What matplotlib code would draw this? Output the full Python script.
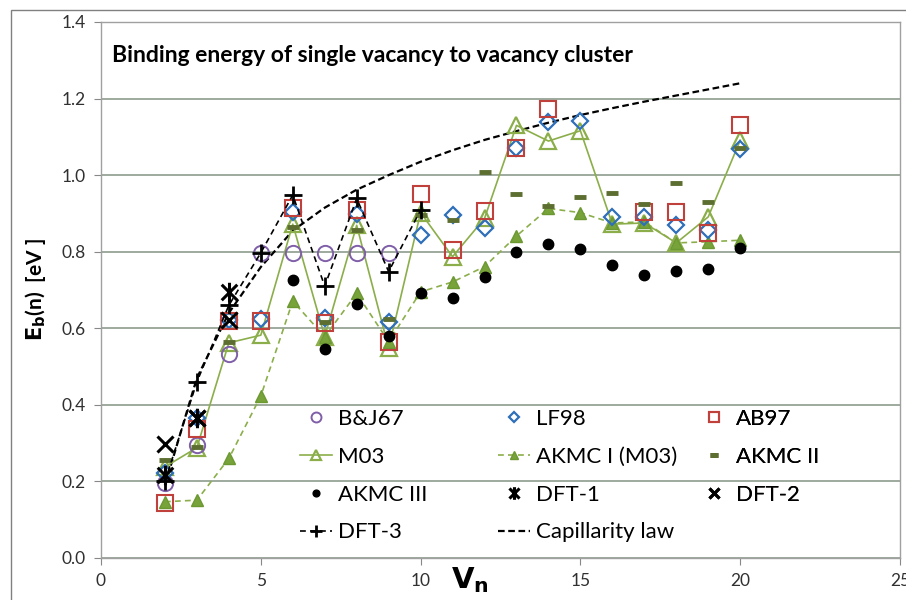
import numpy as np
import matplotlib
matplotlib.use("Agg")
import matplotlib.pyplot as plt
from matplotlib.path import Path
from matplotlib.patches import Rectangle

plt.rcParams["font.family"] = ["Lato", "DejaVu Sans"]

# ---- data ----
n_bj = [2, 3, 4, 5, 6, 7, 8, 9]
bj67 = [0.195, 0.295, 0.533, 0.797, 0.797, 0.797, 0.797, 0.797]

n_lf = list(range(2, 21))
lf98 = [0.222, 0.365, 0.621, 0.624, 0.905, 0.626, 0.898, 0.617, 0.843, 0.895,
        0.862, 1.07, 1.139, 1.141, 0.891, 0.891, 0.871, 0.856, 1.067]

n_ab = [2, 3, 4, 5, 6, 7, 8, 9, 10, 11, 12, 13, 14, 17, 18, 19, 20]
ab97 = [0.144, 0.336, 0.62, 0.62, 0.915, 0.613, 0.909, 0.565, 0.952, 0.804,
        0.907, 1.07, 1.172, 0.904, 0.904, 0.849, 1.13]

n_m03 = list(range(2, 21))
m03 = [0.238, 0.288, 0.562, 0.582, 0.872, 0.578, 0.869, 0.548, 0.902, 0.787,
       0.887, 1.13, 1.089, 1.116, 0.872, 0.875, 0.823, 0.891, 1.091]

n_ak1 = list(range(2, 21))
akmc1 = [0.147, 0.151, 0.26, 0.423, 0.671, 0.578, 0.691, 0.565, 0.695, 0.721,
         0.761, 0.841, 0.913, 0.902, 0.875, 0.878, 0.823, 0.826, 0.83]

n_ak2 = [2, 3, 4, 6, 7, 8, 9, 10, 11, 12, 13, 14, 15, 16, 17, 18, 19, 20]
akmc2 = [0.256, 0.29, 0.565, 0.865, 0.617, 0.858, 0.625, 0.896, 0.884, 1.007,
         0.951, 0.92, 0.944, 0.953, 0.924, 0.979, 0.93, 1.07]

n_ak3 = list(range(6, 21))
akmc3 = [0.726, 0.545, 0.663, 0.58, 0.693, 0.68, 0.733, 0.80, 0.819, 0.808,
         0.765, 0.739, 0.75, 0.754, 0.81]

n_dft1 = [2, 3, 4]
dft1 = [0.217, 0.365, 0.695]

n_dft2 = [2, 3, 4]
dft2 = [0.298, 0.365, 0.621]

n_dft3 = [2, 3, 4, 5, 6, 7, 8, 9, 10]
dft3 = [0.2, 0.46, 0.66, 0.797, 0.948, 0.71, 0.939, 0.748, 0.909]

n_cap = list(range(2, 21))
cap = [0.19, 0.47, 0.64, 0.76, 0.855, 0.915, 0.962, 1.0, 1.035, 1.065,
       1.092, 1.115, 1.137, 1.157, 1.175, 1.192, 1.208, 1.224, 1.24]

# colours
c_purple = "#7f5fa8"
c_blue = "#2e6fba"
c_red = "#c0413b"
c_green = "#8bae4a"
c_dkgreen = "#5c6e30"
c_grid = "#8c9c8c"

# asterisk marker: X plus vertical bar
ast = Path([(-1, -1), (1, 1), (-1, 1), (1, -1), (0, -1.25), (0, 1.25)],
           [Path.MOVETO, Path.LINETO, Path.MOVETO, Path.LINETO, Path.MOVETO, Path.LINETO])

fig = plt.figure(figsize=(9.06, 6.0), dpi=100)
ax = fig.add_axes([101 / 906, 42 / 600, 799 / 906, 536 / 600])

h_cap, = ax.plot(n_cap, cap, ls=(0, (3, 1.6)), color="black", lw=1.6, label="Capillarity law", zorder=3)
h_dft3, = ax.plot(n_dft3, dft3, ls=(0, (3.5, 2.5)), color="black", lw=1.2, marker="+",
                  ms=13, mew=2, label="DFT-3", zorder=6)
h_m03, = ax.plot(n_m03, m03, "-", color=c_green, lw=1.2, marker="^", ms=12, mfc="none",
                 mec=c_green, mew=1.6, label="M03", zorder=4)
h_ak1, = ax.plot(n_ak1, akmc1, ls=(0, (3.5, 2.5)), color=c_green, lw=1.2, marker="^", ms=9,
                 mfc="#77a33a", mec="#6c9832", label="AKMC I (M03)", zorder=4)
h_bj, = ax.plot(n_bj, bj67, ls="none", marker="o", ms=11, mfc="none", mec=c_purple,
                mew=1.4, label="B&J67", zorder=5)
h_lf, = ax.plot(n_lf, lf98, ls="none", marker="D", ms=8, mfc="none", mec=c_blue,
                mew=1.6, label="LF98", zorder=5)
h_ab, = ax.plot(n_ab, ab97, ls="none", marker="s", ms=11, mfc="none", mec=c_red,
                mew=1.5, label="AB97", zorder=5)
h_ak2, = ax.plot(n_ak2, akmc2, ls="none", marker="_", ms=9, mew=3.5, color=c_dkgreen,
                 label="AKMC II", zorder=5)
h_ak3, = ax.plot(n_ak3, akmc3, ls="none", marker="o", ms=7.5, color="black",
                 label="AKMC III", zorder=5)
h_dft1, = ax.plot(n_dft1, dft1, ls="none", marker=ast, ms=14, mew=2.2, mfc="none", mec="black",
                  label="DFT-1", zorder=6)
h_dft2, = ax.plot(n_dft2, dft2, ls="none", marker="x", ms=12, mew=2.2, color="black",
                  label="DFT-2", zorder=6)

ax.set_xlim(0, 25)
ax.set_ylim(0, 1.4)
ax.set_xticks(np.arange(0, 26, 5))
ax.set_yticks(np.arange(0, 1.41, 0.2))
ax.set_yticklabels(["%.1f" % v for v in np.arange(0, 1.41, 0.2)])
ax.yaxis.grid(True, color=c_grid, lw=1.2)
ax.set_axisbelow(True)
for side in ["left", "bottom", "right", "top"]:
    ax.spines[side].set_color("#a0a0a0")
    ax.spines[side].set_linewidth(1.0)
ax.tick_params(direction="out", length=5, color="#888888", labelsize=12.5,
               labelcolor="#303030", pad=6)

ax.set_xlabel(r"$\mathbf{V_n}$", fontsize=21)
ax.xaxis.set_label_coords((470 - 101) / 799, -0.014)
ax.xaxis.label.set_va("top")
ax.set_ylabel(r"$\mathbf{E_b}$" + "(n)  [eV ]", fontsize=15, fontweight="bold", labelpad=10)
ax.text(0.014, 0.957, "Binding energy of single vacancy to vacancy cluster",
        transform=ax.transAxes, fontsize=16.5, fontweight="bold", va="top", ha="left")

# legend: three columns placed like the reference
columns = [
    ([h_bj, h_m03, h_ak3, h_dft3], 300),
    ([h_lf, h_ak1, h_dft1, h_cap], 498),
    ([h_ab, h_ak2, h_dft2], 698),
]
top_y = (558 - 409) / 536
for hs, px in columns:
    leg = ax.legend(handles=hs, loc="upper left", bbox_to_anchor=((px - 101) / 799, top_y),
                    frameon=False, fontsize=16, markerscale=0.65, handlelength=1.45,
                    handletextpad=0.25, labelspacing=0.8, borderpad=0, borderaxespad=0)
    ax.add_artist(leg)

# outer chart border
fig.patches.append(Rectangle((11 / 906, -0.05), 1.2, 1 - 10 / 600 + 0.05,
                             transform=fig.transFigure, fill=False, ec="#808080", lw=1.0))

fig.savefig("out.png", dpi=100)
